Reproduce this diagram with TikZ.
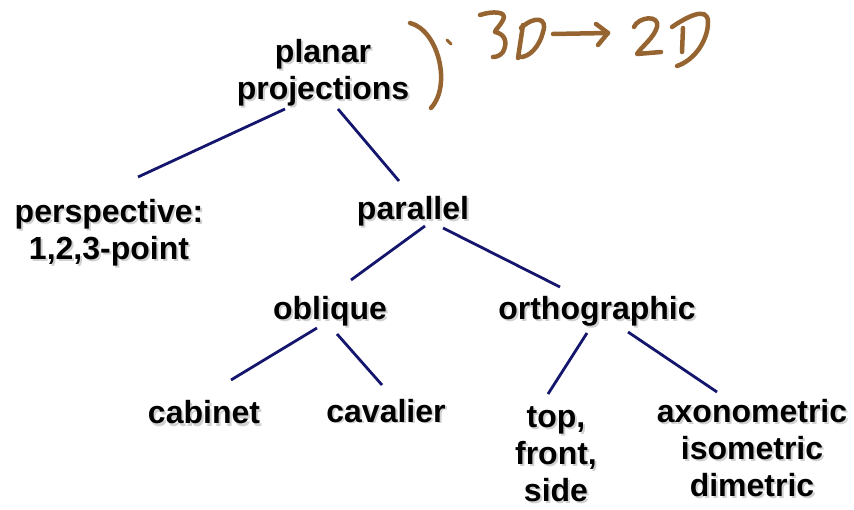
\documentclass[tikz,border=0pt]{standalone}
\usepackage{fontspec}
\setmainfont{Liberation Sans}
\definecolor{edgeblue}{RGB}{20,22,110}
\definecolor{inkbrown}{RGB}{150,100,48}
\tikzset{
  tn/.style={anchor=base, inner sep=0pt, align=center,
    font=\fontsize{32}{37}\selectfont\bfseries, text=black},
  tnshadow/.style={tn, text=black, opacity=0.18},
  edge/.style={draw=edgeblue, line width=2.8pt},
  ink/.style={draw=inkbrown, line width=4.5pt, line cap=round, line join=round},
}
% a tree label with a soft drop shadow behind it;
% the position is the baseline of the label's last line
\newcommand\treelabel[4]{%
  \node[tnshadow] at (#2+2,#3+2) {#4};
  \node[tn] (#1) at (#2,#3) {#4};}
% connector between two labels, end points given relative to their base anchors
\newcommand\treeedge[4]{%
  \draw[edge] ([shift={(#2)}]#1.base) -- ([shift={(#4)}]#3.base);}
\begin{document}
\begin{tikzpicture}[x=1pt,y=-1pt]
\useasboundingbox (0,0) rectangle (854,510);

\treelabel{root}{323}{100}{planar\\projections}
\treelabel{persp}{109}{260}{perspective:\\1,2,3-point}
\treelabel{para}{413}{220}{parallel}
\treelabel{obl}{330}{320}{oblique}
\treelabel{ortho}{597}{320}{orthographic}
\treelabel{cab}{204}{424}{cabinet}
\treelabel{cav}{386}{422}{cavalier}
\treelabel{tfs}{556}{501}{top,\\front,\\side}
\treelabel{axo}{752}{496}{axonometric\\isometric\\dimetric}

\treeedge{root}{-38,9}{persp}{29,-83}
\treeedge{root}{15,9}{para}{-14,-39}
\treeedge{para}{12,6}{obl}{21,-40}
\treeedge{para}{30,8}{ortho}{-37,-33}
\treeedge{obl}{-13,8}{cab}{27,-44}
\treeedge{obl}{7,14}{cav}{-4,-37}
\treeedge{ortho}{-10,13}{tfs}{-8,-107}
\treeedge{ortho}{31,12}{axo}{-35,-104}

% handwritten note: bracket and "3D -> 2D"
\draw[ink] (410,23) .. controls (438,30) and (452,85) .. (431,108);
\draw[ink, line width=3pt] (447,40) -- (451,44);
\draw[ink] (480,15) .. controls (492,11) and (508,11) .. (503,20)
  .. controls (500,26) and (495,30) .. (495,32)
  .. controls (505,34) and (508,42) .. (503,52)
  .. controls (500,56) and (496,57) .. (493,57);
\draw[ink] (518,58) -- (523,25);
\draw[ink] (521,28) .. controls (535,15) and (548,18) .. (543,32)
  .. controls (540,45) and (530,58) .. (519,57);
\draw[ink] (553,34) -- (608,33);
\draw[ink] (596,24) -- (608,33) -- (598,45);
\draw[ink] (634,27) .. controls (638,17) and (660,14) .. (657,27)
  .. controls (654,38) and (642,46) .. (637,54) -- (661,52);
\draw[ink] (672,27) .. controls (685,18) and (708,5) .. (708,22)
  .. controls (708,40) and (695,60) .. (677,66);
\draw[ink] (683,28) -- (682,52);
\end{tikzpicture}
\end{document}
